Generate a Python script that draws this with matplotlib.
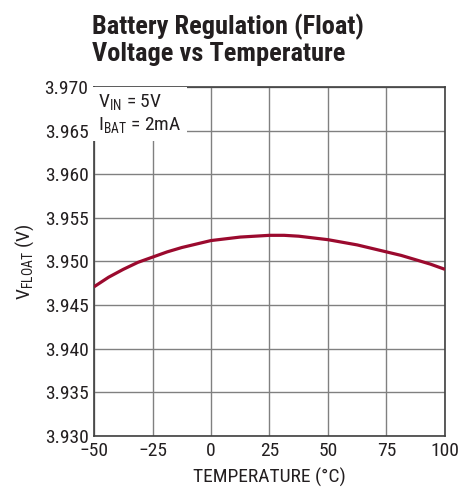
import matplotlib
matplotlib.use("Agg")
import matplotlib.pyplot as plt
from matplotlib import font_manager as fm
import os

temps = [-50, -43.75, -37.5, -31.25, -25, -18.75, -12.5, -6.25, 0, 6.25,
         12.5, 18.75, 25, 31.25, 37.5, 43.75, 50, 56.25, 62.5, 68.75,
         75, 81.25, 87.5, 93.75, 100]
vfloat = [3.9471, 3.9482, 3.9491, 3.9499, 3.9505, 3.9511, 3.9516, 3.9520,
          3.9524, 3.9526, 3.9528, 3.9529, 3.9530, 3.9530, 3.9529, 3.9527,
          3.9525, 3.9522, 3.9519, 3.9515, 3.9511, 3.9507, 3.9502, 3.9497,
          3.9491]
xticks = [-50, -25, 0, 25, 50, 75, 100]
xticklabels = ["\u221250", "\u221225", "0", "25", "50", "75", "100"]
yticks = [3.930, 3.935, 3.940, 3.945, 3.950, 3.955, 3.960, 3.965, 3.970]

files = set(f.fname for f in fm.fontManager.ttflist)
try:
    files |= set(fm.findSystemFonts())
except Exception:
    pass
bynm = {os.path.basename(p).lower(): p for p in files}

def pick(cands):
    for c in cands:
        for k, p in bynm.items():
            if k.startswith(c):
                return p
    return None

reg = pick(["liberationsansnarrow-regular", "robotocondensed-regular",
            "opensans_condensed-regular", "opensanscondensed-regular",
            "dejavusanscondensed."])
bold = pick(["liberationsansnarrow-bold.", "robotocondensed-bold.",
             "opensans_condensed-bold.", "opensanscondensed-bold.",
             "dejavusanscondensed-bold."])

if reg:
    fm.fontManager.addfont(reg)
    regname = fm.FontProperties(fname=reg).get_name()
    plt.rcParams['font.family'] = [regname, 'DejaVu Sans']
    plt.rcParams['mathtext.fontset'] = 'custom'
    plt.rcParams['mathtext.rm'] = regname
else:
    plt.rcParams['font.family'] = ['Liberation Sans', 'DejaVu Sans']
if bold:
    fm.fontManager.addfont(bold)
    titleprop = fm.FontProperties(fname=bold, size=19)
else:
    titleprop = fm.FontProperties(family='Liberation Sans', weight='bold', size=17)

txt = "#231f20"

fig = plt.figure(figsize=(4.64, 4.94), dpi=100)
ax = fig.add_axes([0.2026, 0.1174, 0.7564, 0.7065])
ax.plot(temps, vfloat, color="#9b0a2e", lw=2.3, solid_capstyle="butt",
        solid_joinstyle="round", zorder=3)
ax.set_xlim(-50, 100)
ax.set_ylim(3.930, 3.970)
ax.set_xticks(xticks)
ax.set_xticklabels(xticklabels)
ax.set_yticks(yticks)
ax.set_yticklabels([f"{v:.3f}" for v in yticks])
ax.grid(True, color="#808080", lw=1.0)
ax.tick_params(length=0, labelsize=14, colors=txt, pad=4)
for s in ax.spines.values():
    s.set_color("#404040")
    s.set_linewidth(1.2)
ax.set_xlabel("TEMPERATURE (\u00b0C)", fontsize=14, color=txt, labelpad=6)
ax.set_ylabel("V$_{\\mathregular{FLOAT}}$ (V)", fontsize=14, color=txt, labelpad=6)

ax.text(0.012, 0.985, "V$_{\\mathregular{IN}}$ = 5V\nI$_{\\mathregular{BAT}}$ = 2mA",
        transform=ax.transAxes, ha="left", va="top", fontsize=14, color=txt,
        linespacing=1.2,
        bbox=dict(boxstyle="square,pad=0.25", fc="white", ec="none"), zorder=4)

fig.text(0.198, 0.972, "Battery Regulation (Float)\nVoltage vs Temperature",
         ha="left", va="top", fontproperties=titleprop, color=txt,
         linespacing=1.08)

fig.savefig("out.png", dpi=100)
